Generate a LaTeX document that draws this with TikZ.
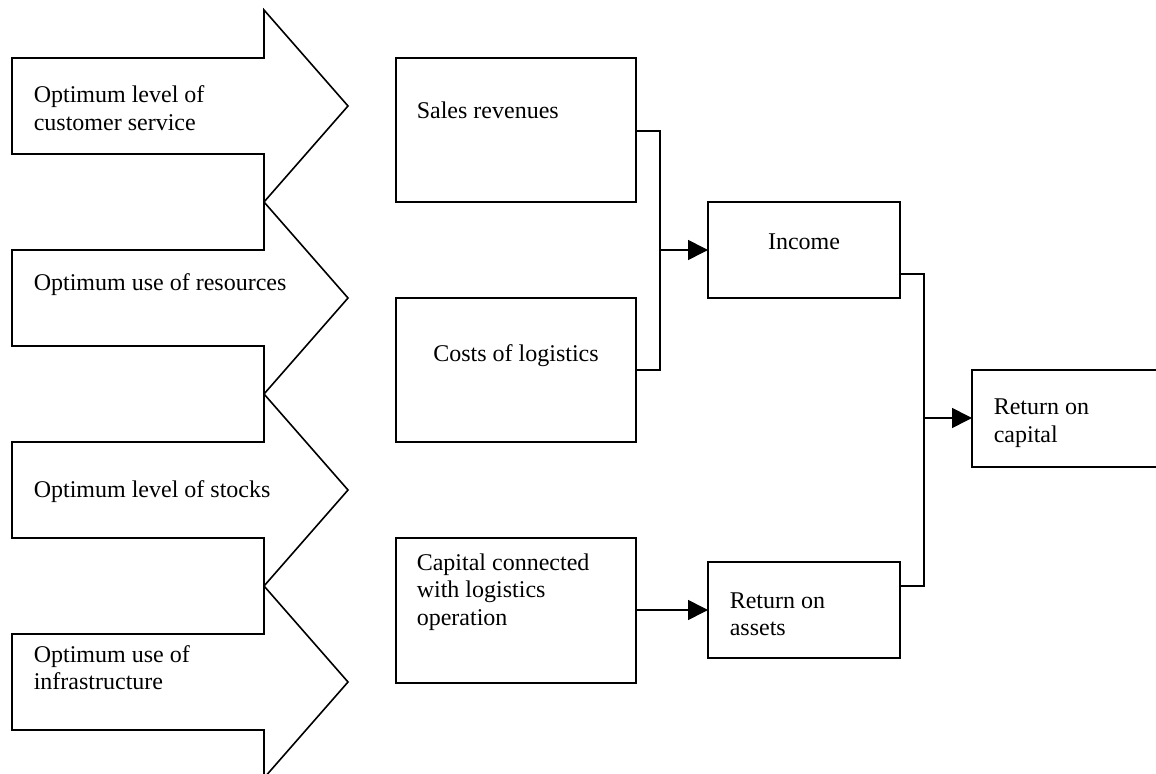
\documentclass[tikz,border=0pt]{standalone}
\usepackage{fontspec}
\setmainfont{Liberation Serif}
\usetikzlibrary{arrows.meta}

% stacked lines whose baseline is the baseline of the first line
\newcommand{\stacktwo}[2]{\vtop{\hbox{#1}\hbox{#2}}}
\newcommand{\stackthree}[3]{\vtop{\hbox{#1}\hbox{#2}\hbox{#3}}}

\begin{document}
\begin{tikzpicture}[
  x=0.5pt, y=-0.5pt,
  line width=0.8pt,
  outline/.style={draw=black, line join=miter},
  box/.style={draw=black, rectangle, inner sep=0pt, outer sep=0pt},
  label/.style={font=\fontsize{12}{13.8}\selectfont, inner sep=0pt, anchor=base west},
  clabel/.style={label, anchor=base},
  arr/.style={-{Triangle[length=10pt,width=10pt]}}
]
\useasboundingbox (0,0) rectangle (1156,774);

% four broad block arrows on the left
\foreach \k in {0,1,2,3}{
  \draw[outline] (12,{58+192*\k}) -- (264,{58+192*\k}) -- (264,{10+192*\k})
    -- (348,{106+192*\k}) -- (264,{202+192*\k}) -- (264,{154+192*\k})
    -- (12,{154+192*\k}) -- cycle;
}
\node[label] (goal1) at (33,103) {\stacktwo{Optimum level of}{customer service}};
\node[label] (goal2) at (33,291) {Optimum use of resources};
\node[label] (goal3) at (33,498) {Optimum level of stocks};
\node[label] (goal4) at (33,662) {\stacktwo{Optimum use of}{infrastructure}};

% boxes
\node[box, minimum width=120pt, minimum height=72pt]   (sales)   at (516,130) {};
\node[box, minimum width=120pt, minimum height=72pt]   (costs)   at (516,370) {};
\node[box, minimum width=120pt, minimum height=72.5pt] (capital) at (516,610.5) {};
\node[box, minimum width=96pt,  minimum height=48pt]   (income)  at (804,250) {};
\node[box, minimum width=96pt,  minimum height=48pt]   (roa)     at (804,610) {};
\node[box, minimum width=96pt,  minimum height=48.5pt] (roc)     at (1068,418.5) {};

% box texts
\node[label]  (salesT)   at (416,119) {Sales revenues};
\node[clabel] (costsT)   at (516,362) {Costs of logistics};
\node[label]  (capitalT) at (416,570) {\stackthree{Capital connected}{with logistics}{operation}};
\node[clabel] (incomeT)  at (804,250) {Income};
\node[label]  (roaT)     at (729,608) {\stacktwo{Return on}{assets}};
\node[label]  (rocT)     at (993,415) {\stacktwo{Return on}{capital}};

% connectors
\coordinate (bus1) at (660,250);
\coordinate (bus2) at (924,418);
\draw (sales.east |- 0,131) -| (bus1) |- (costs.east);
\draw[arr] (bus1) -- (income.west);
\draw (income.east |- 0,274) -| (bus2) |- (roa.east |- 0,586);
\draw[arr] (bus2) -- (roc.west |- bus2);
\draw[arr] (capital.east |- 0,610) -- (roa.west);
\end{tikzpicture}
\end{document}
